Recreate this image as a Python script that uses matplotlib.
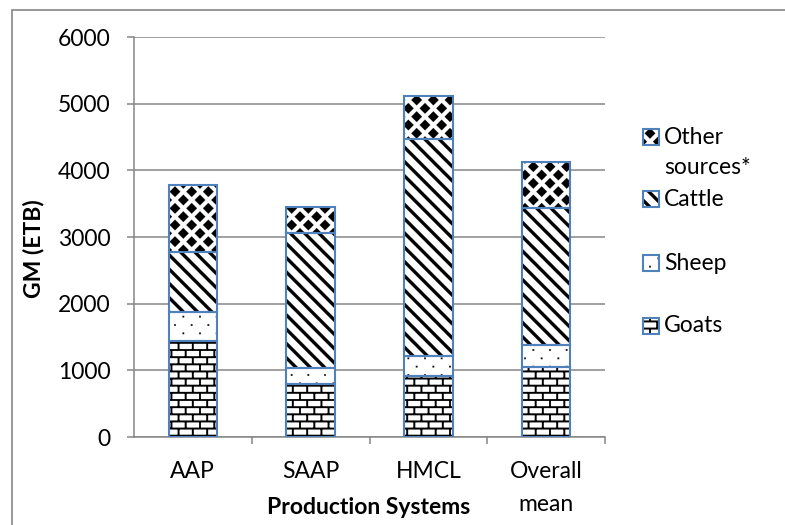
import warnings
import numpy as np
import matplotlib
matplotlib.use('Agg')
import matplotlib.pyplot as plt
import matplotlib.hatch as mhatch
from matplotlib.path import Path
from matplotlib.patches import Rectangle

warnings.filterwarnings('ignore', message='hatch must consist')

systems = ['AAP', 'SAAP', 'HMCL', 'Overall\nmean']
goats = [1440, 800, 915, 1050]
sheep = [430, 235, 300, 330]
cattle = [910, 2020, 3250, 2060]
other = [1000, 400, 655, 685]
yticks = [0, 1000, 2000, 3000, 4000, 5000, 6000]


# --- fill patterns built from small filled quads (unit tile, y up) ---
class QuadHatch(mhatch.HatchPatternBase):
    char = None

    def __init__(self, hatch, density):
        self.quads = self.build() if self.char in hatch else []
        self.num_vertices = 5 * len(self.quads)

    def set_vertices_and_codes(self, vertices, codes):
        for i, q in enumerate(self.quads):
            vertices[5 * i:5 * i + 4] = q
            vertices[5 * i + 4] = q[0]
            codes[5 * i] = Path.MOVETO
            codes[5 * i + 1:5 * i + 4] = Path.LINETO
            codes[5 * i + 4] = Path.CLOSEPOLY


def box(x0, y0, x1, y1):
    return [(x0, y0), (x1, y0), (x1, y1), (x0, y1)]


class BrickHatch(QuadHatch):
    char = 'b'

    def build(self):
        n, t = 14, 0.009
        out = []
        for i in range(n + 1):
            y = i / n
            out.append(box(-0.01, y - t, 1.01, y + t))
        for i in range(n):
            for j in range(n // 2 + 1):
                x = (2 * j + i % 2) / n
                if x <= 1.001:
                    out.append(box(x - t, i / n, x + t, (i + 1) / n))
        return out


class StripeHatch(QuadHatch):
    char = 's'

    def build(self):
        n = 7
        h = 0.32 / (2 * n)
        out = []
        for k in range(2 * n + 1):
            c = k / n
            out.append([(-0.5, c - h + 0.5), (1.5, c - h - 1.5),
                        (1.5, c + h - 1.5), (-0.5, c + h + 0.5)])
        return out


def lattice(m):
    pts = [(i / m, j / m) for i in range(m + 1) for j in range(m + 1)]
    pts += [((i + 0.5) / m, (j + 0.5) / m) for i in range(m) for j in range(m)]
    return pts


class DiamondHatch(QuadHatch):
    char = 'd'

    def build(self):
        m = 6
        r = 0.32 / m
        return [[(x - r, y), (x, y - r), (x + r, y), (x, y + r)]
                for x, y in lattice(m)]


class DotHatch(QuadHatch):
    char = 'p'

    def build(self):
        m = 6
        r = 0.008
        return [box(x - r, y - r, x + r, y + r) for x, y in lattice(m)]


mhatch._hatch_types.extend([BrickHatch, StripeHatch, DiamondHatch, DotHatch])

plt.rcParams['font.family'] = ['Lato', 'DejaVu Sans']
plt.rcParams['hatch.linewidth'] = 0.1
FS = 16.5

W, H = 785, 525
fig = plt.figure(figsize=(W / 100, H / 100), dpi=100)


def fx(px):
    return px / W


def fy(py):
    return 1 - py / H


ax = fig.add_axes([fx(134), fy(437), fx(605) - fx(134), fy(37) - fy(437)])

grey = '#868686'
blue = '#4F81BD'
x = np.arange(len(systems))
width = 0.41

layers = [('Goats', goats, 'b'), ('Sheep', sheep, 'p'),
          ('Cattle', cattle, 's'), ('Other\nsources*', other, 'd')]
bottom = np.zeros(len(systems))
for name, vals, hatch in layers:
    ax.bar(x, vals, width, bottom=bottom, color='white', edgecolor='black',
           hatch=hatch, linewidth=0, zorder=2)
    ax.bar(x, vals, width, bottom=bottom, fill=False, edgecolor=blue,
           linewidth=1.5, zorder=3)
    bottom += np.array(vals)

ax.set_xlim(-0.5, len(systems) - 0.5)
ax.set_ylim(0, 6000)
ax.set_yticks(yticks)
ax.yaxis.grid(True, color=grey, linewidth=1.1, zorder=0)
ax.set_axisbelow(True)
for s in ['top', 'right']:
    ax.spines[s].set_visible(False)
for s in ['left', 'bottom']:
    ax.spines[s].set_color(grey)
    ax.spines[s].set_linewidth(1.1)

ax.tick_params(axis='y', direction='out', length=5, width=1.1, color=grey,
               pad=12, labelsize=FS)
ax.set_xticks(x)
ax.set_xticklabels(systems)
ax.set_xticks(np.arange(len(systems)) + 0.5, minor=True)
ax.tick_params(axis='x', which='major', length=0, pad=17, labelsize=FS)
ax.tick_params(axis='x', which='minor', direction='out', length=5, width=1.1,
               color=grey)
for lab in ax.get_xticklabels():
    lab.set_linespacing(1.75)

fig.text(fx(369), fy(508), 'Production Systems', fontsize=FS,
         fontweight='bold', ha='center', va='center')
fig.text(fx(33), fy(249), 'GM (ETB)', fontsize=FS, fontweight='bold',
         rotation=90, ha='center', va='center')

# legend, top entry first
entries = [('Other', 'sources*', 'd', 137), ('Cattle', None, 's', 199),
           ('Sheep', None, 'p', 263), ('Goats', None, 'b', 326)]
for label, second, hatch, cy in entries:
    fig.patches.append(Rectangle((fx(643), fy(cy + 8)), fx(16), fy(0) - fy(16),
                                 transform=fig.transFigure, facecolor='white',
                                 edgecolor='black', hatch=hatch, linewidth=0))
    fig.patches.append(Rectangle((fx(643), fy(cy + 8)), fx(16), fy(0) - fy(16),
                                 transform=fig.transFigure, fill=False,
                                 edgecolor=blue, linewidth=1.5))
    fig.text(fx(664), fy(cy), label, fontsize=FS, ha='left', va='center')
    if second:
        fig.text(fx(664), fy(cy + 30), second, fontsize=FS, ha='left',
                 va='center')

# chart frame
fig.patches.append(Rectangle((fx(12), fy(600)), fx(900), fy(10) - fy(600),
                             transform=fig.transFigure, fill=False,
                             edgecolor=grey, linewidth=1.2))

fig.savefig('out.png', dpi=100)
